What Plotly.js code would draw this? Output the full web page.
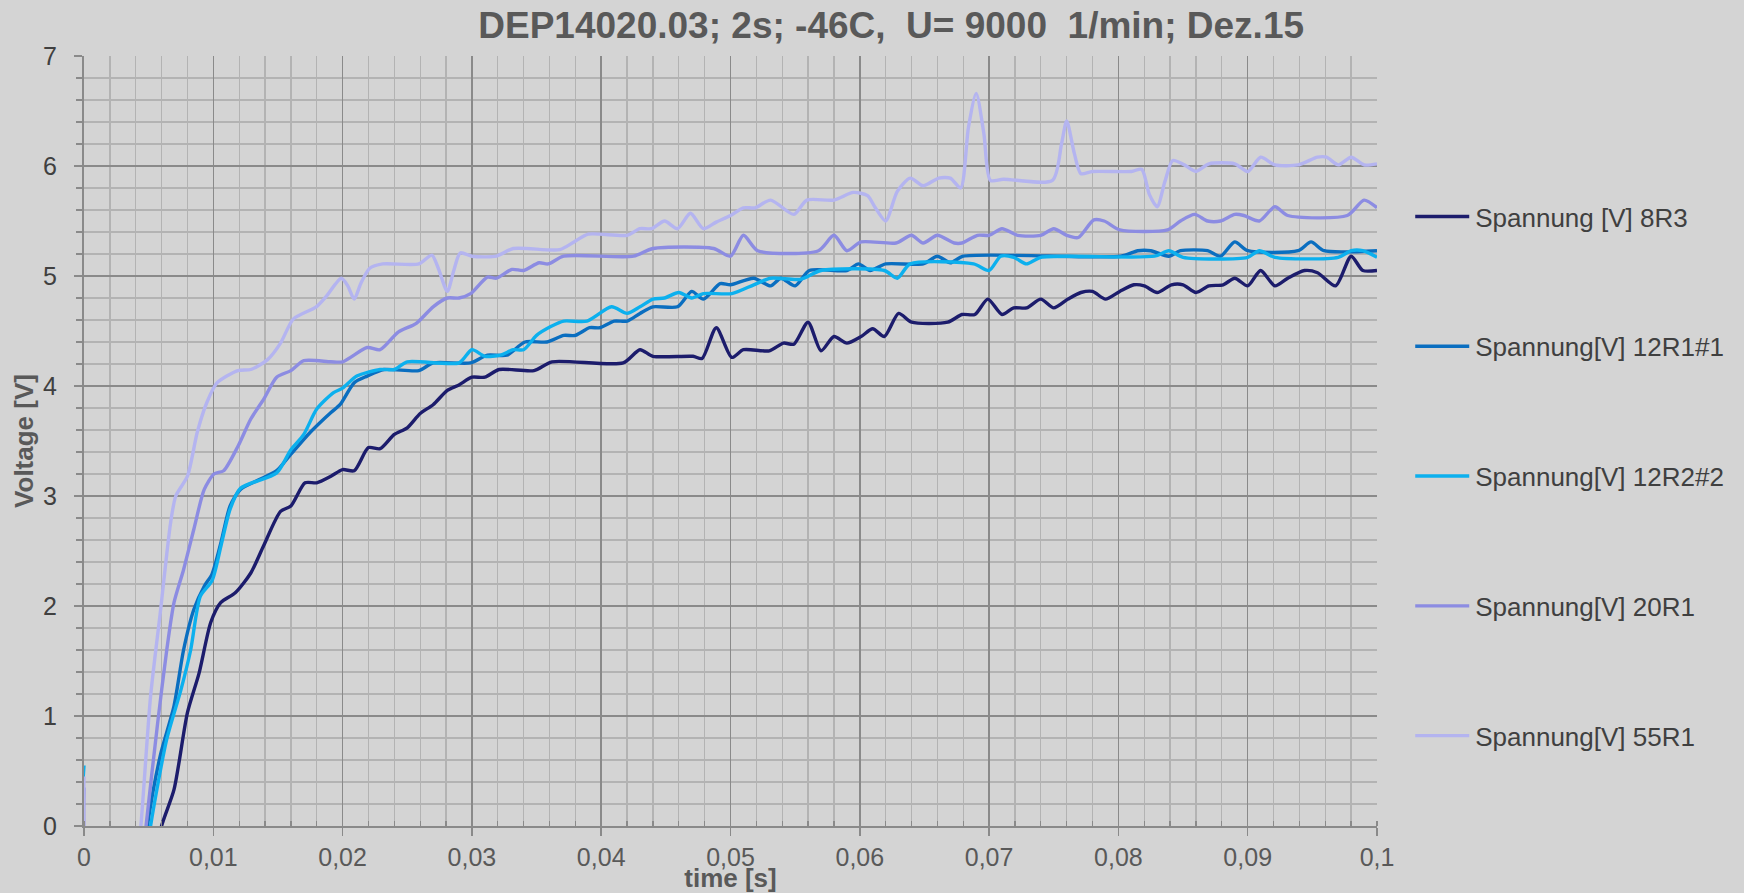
<!DOCTYPE html>
<html>
<head>
<meta charset="utf-8">
<script src="https://cdn.plot.ly/plotly-3.0.1.min.js"></script>
<style>
  html, body { margin: 0; padding: 0; background: #d4d4d4; }
  #chart { width: 1744px; height: 893px; }
</style>
</head>
<body>
<div id="chart"></div>
<script>
// Run-up voltage of five generator variants, time in seconds, voltage in volts.
const seriesNames = [
  'Spannung [V] 8R3',
  'Spannung[V] 12R1#1',
  'Spannung[V] 12R2#2',
  'Spannung[V] 20R1',
  'Spannung[V] 55R1'
];
const seriesColors = ['#1c1c6c', '#0a6ec0', '#0cb0ee', '#8c8ce2', '#b4b4f0'];

const t8R3 = [0, 0.0052, 0.0060, 0.00696, 0.0080, 0.0089, 0.0098, 0.01057, 0.0117, 0.0129, 0.0139, 0.0152, 0.0160, 0.0171, 0.0180, 0.0191, 0.0200, 0.0209, 0.0220, 0.0229, 0.0240, 0.0250, 0.0260, 0.0270, 0.0281, 0.0290, 0.0300, 0.0310, 0.0321, 0.0348, 0.0362, 0.0417, 0.0430, 0.0440, 0.0471, 0.0478, 0.0489, 0.0501, 0.0510, 0.0530, 0.0541, 0.0549, 0.0560, 0.0570, 0.0580, 0.0590, 0.0601, 0.0610, 0.0619, 0.0630, 0.0640, 0.0668, 0.0679, 0.0689, 0.0699, 0.0710, 0.0719, 0.0729, 0.0740, 0.0750, 0.0761, 0.0771, 0.0780, 0.0790, 0.0801, 0.0812, 0.0820, 0.0830, 0.0841, 0.0850, 0.0860, 0.0870, 0.0881, 0.0890, 0.0900, 0.0910, 0.0921, 0.0931, 0.0944, 0.0954, 0.0968, 0.0980, 0.0989, 0.1000];
const v8R3 = [-0.5, -0.5, 0, 0.33, 1.03, 1.39, 1.85, 2.03, 2.12, 2.30, 2.55, 2.86, 2.91, 3.12, 3.12, 3.18, 3.24, 3.23, 3.44, 3.43, 3.56, 3.62, 3.75, 3.83, 3.96, 4.01, 4.08, 4.08, 4.15, 4.14, 4.22, 4.21, 4.33, 4.27, 4.27, 4.25, 4.53, 4.26, 4.33, 4.32, 4.39, 4.38, 4.58, 4.32, 4.45, 4.39, 4.45, 4.52, 4.45, 4.66, 4.58, 4.58, 4.65, 4.65, 4.79, 4.65, 4.71, 4.71, 4.79, 4.71, 4.79, 4.85, 4.86, 4.79, 4.86, 4.92, 4.91, 4.85, 4.92, 4.92, 4.85, 4.91, 4.92, 4.98, 4.91, 5.05, 4.91, 4.98, 5.05, 5.03, 4.91, 5.18, 5.05, 5.05];

const t12R1 = [0, 0.0044, 0.0049, 0.0059, 0.00696, 0.0077, 0.0085, 0.0093, 0.0099, 0.0106, 0.0113, 0.0121, 0.0134, 0.0149, 0.0160, 0.0175, 0.0191, 0.0198, 0.0209, 0.0219, 0.0232, 0.0259, 0.0270, 0.0299, 0.0312, 0.0327, 0.0341, 0.0358, 0.0371, 0.0380, 0.0391, 0.0399, 0.0410, 0.0420, 0.0430, 0.0440, 0.0459, 0.0470, 0.0479, 0.0492, 0.0500, 0.0518, 0.0531, 0.0539, 0.0550, 0.0561, 0.0590, 0.0599, 0.0608, 0.0620, 0.0649, 0.0660, 0.0670, 0.0680, 0.0802, 0.0815, 0.0825, 0.0839, 0.0848, 0.0869, 0.0879, 0.0890, 0.0900, 0.0939, 0.0949, 0.0959, 0.1000];
const v12R1 = [-0.5, -0.5, 0, 0.64, 1.09, 1.60, 1.97, 2.18, 2.29, 2.58, 2.91, 3.06, 3.14, 3.23, 3.38, 3.58, 3.76, 3.83, 4.03, 4.09, 4.15, 4.14, 4.21, 4.21, 4.28, 4.28, 4.40, 4.40, 4.46, 4.46, 4.53, 4.53, 4.59, 4.59, 4.66, 4.72, 4.72, 4.86, 4.79, 4.93, 4.92, 4.98, 4.91, 4.98, 4.91, 5.05, 5.05, 5.11, 5.05, 5.11, 5.11, 5.18, 5.12, 5.18, 5.18, 5.23, 5.23, 5.18, 5.23, 5.23, 5.18, 5.31, 5.23, 5.23, 5.31, 5.23, 5.23];

const t12R2 = [0, 0.0003, 0.0046, 0.00515, 0.0064, 0.0075, 0.00825, 0.0090, 0.0099, 0.0106, 0.0113, 0.0121, 0.0149, 0.0160, 0.0170, 0.0180, 0.0193, 0.0200, 0.0211, 0.0229, 0.0240, 0.0250, 0.0290, 0.0300, 0.0310, 0.0322, 0.0332, 0.0340, 0.0350, 0.0361, 0.0371, 0.0389, 0.0408, 0.0420, 0.0430, 0.0440, 0.0449, 0.0460, 0.0470, 0.0479, 0.0501, 0.0518, 0.0531, 0.0554, 0.0570, 0.0619, 0.0629, 0.0639, 0.0688, 0.0700, 0.0709, 0.0719, 0.0729, 0.0740, 0.0828, 0.0839, 0.0850, 0.0900, 0.0909, 0.0921, 0.0970, 0.0980, 0.0989, 0.1000];
const v12R2 = [0.55, -0.5, -0.5, 0, 0.79, 1.24, 1.60, 2.09, 2.23, 2.55, 2.88, 3.07, 3.21, 3.42, 3.56, 3.79, 3.94, 3.98, 4.09, 4.15, 4.15, 4.22, 4.21, 4.33, 4.27, 4.28, 4.33, 4.33, 4.46, 4.54, 4.59, 4.59, 4.72, 4.66, 4.72, 4.79, 4.80, 4.85, 4.80, 4.84, 4.84, 4.92, 4.98, 4.97, 5.05, 5.05, 4.98, 5.11, 5.11, 5.05, 5.18, 5.17, 5.11, 5.17, 5.18, 5.23, 5.17, 5.17, 5.23, 5.17, 5.17, 5.23, 5.23, 5.17];

const t20R1 = [0, 0.0006, 0.0043, 0.0048, 0.0057, 0.0064, 0.00696, 0.0077, 0.0085, 0.0093, 0.01005, 0.0108, 0.0119, 0.0129, 0.0139, 0.0149, 0.0160, 0.0170, 0.0191, 0.0200, 0.0219, 0.0229, 0.0243, 0.0257, 0.0270, 0.0281, 0.0290, 0.0299, 0.0312, 0.0319, 0.0331, 0.0340, 0.0352, 0.0359, 0.0371, 0.0425, 0.0440, 0.0487, 0.0500, 0.0510, 0.0521, 0.0568, 0.0580, 0.0590, 0.0601, 0.0628, 0.0640, 0.0649, 0.0660, 0.0673, 0.0679, 0.0691, 0.0700, 0.0710, 0.0722, 0.0740, 0.0750, 0.0760, 0.0769, 0.0781, 0.0789, 0.0801, 0.0838, 0.0848, 0.0859, 0.0869, 0.0879, 0.0890, 0.0897, 0.0909, 0.0921, 0.0931, 0.0977, 0.0990, 0.1000];
const v20R1 = [0.35, -0.5, -0.6, 0, 0.94, 1.60, 2.03, 2.33, 2.70, 3.06, 3.20, 3.23, 3.45, 3.70, 3.88, 4.08, 4.14, 4.23, 4.22, 4.22, 4.35, 4.33, 4.49, 4.57, 4.72, 4.80, 4.80, 4.84, 4.99, 4.98, 5.06, 5.05, 5.12, 5.11, 5.18, 5.18, 5.25, 5.25, 5.18, 5.37, 5.23, 5.23, 5.37, 5.23, 5.31, 5.30, 5.37, 5.30, 5.37, 5.30, 5.30, 5.37, 5.37, 5.43, 5.37, 5.37, 5.43, 5.37, 5.35, 5.51, 5.50, 5.42, 5.42, 5.50, 5.56, 5.50, 5.50, 5.56, 5.55, 5.50, 5.63, 5.55, 5.55, 5.69, 5.62];

const t55R1 = [0, 0.0006, 0.0039, 0.0044, 0.00515, 0.0059, 0.0067, 0.0071, 0.0080, 0.00876, 0.0095, 0.0103, 0.0119, 0.0129, 0.0142, 0.0152, 0.0162, 0.01796, 0.0187, 0.0199, 0.0204, 0.0209, 0.0214, 0.0221, 0.0231, 0.0259, 0.0269, 0.0274, 0.0281, 0.0286, 0.0291, 0.0300, 0.0319, 0.0332, 0.0368, 0.0379, 0.0390, 0.0420, 0.0430, 0.0439, 0.0449, 0.0459, 0.0469, 0.0479, 0.0489, 0.0500, 0.0510, 0.0519, 0.0531, 0.0549, 0.0559, 0.0580, 0.0595, 0.0606, 0.0612, 0.0620, 0.0629, 0.0639, 0.0649, 0.0661, 0.0670, 0.0678, 0.0684, 0.0690, 0.0696, 0.0701, 0.0711, 0.0749, 0.0756, 0.0760, 0.0766, 0.0771, 0.0780, 0.0810, 0.0818, 0.0824, 0.0830, 0.0836, 0.0842, 0.0851, 0.0860, 0.0870, 0.0890, 0.0900, 0.0910, 0.0921, 0.0939, 0.0954, 0.0961, 0.0970, 0.0980, 0.0990, 0.1000];
const v55R1 = [0.45, -0.5, -0.6, 0, 1.18, 1.94, 2.76, 3.00, 3.18, 3.58, 3.85, 4.03, 4.14, 4.15, 4.24, 4.39, 4.61, 4.72, 4.81, 4.98, 4.91, 4.79, 4.93, 5.07, 5.11, 5.11, 5.19, 5.07, 4.86, 5.05, 5.21, 5.18, 5.18, 5.25, 5.24, 5.31, 5.38, 5.37, 5.43, 5.43, 5.50, 5.43, 5.57, 5.43, 5.49, 5.55, 5.62, 5.62, 5.69, 5.56, 5.69, 5.69, 5.76, 5.73, 5.62, 5.50, 5.77, 5.89, 5.82, 5.89, 5.89, 5.80, 6.35, 6.66, 6.29, 5.87, 5.88, 5.87, 6.20, 6.41, 6.11, 5.93, 5.95, 5.95, 5.97, 5.74, 5.63, 5.86, 6.05, 6.01, 5.95, 6.02, 6.02, 5.95, 6.08, 6.01, 6.01, 6.08, 6.08, 6.01, 6.08, 6.01, 6.02];

const xTicksMajor = 0.01, xTicksMinor = 0.002;
const yTicksMajor = 1, yTicksMinor = 0.2;

const times = [t8R3, t12R1, t12R2, t20R1, t55R1];
const volts = [v8R3, v12R1, v12R2, v20R1, v55R1];

const FONT = '"Liberation Sans", Arial, sans-serif';
const BG = '#d4d4d4';
const MAJOR = '#8a8a8a';
const MINOR = '#b3b3b3';

const traces = seriesNames.map((name, i) => ({
  type: 'scatter',
  mode: 'lines',
  name: name,
  legendgroup: 'g' + i,
  x: times[i],
  y: volts[i],
  line: { color: seriesColors[i], width: 3.4, shape: 'spline', smoothing: 0.7 },
  hoverinfo: 'x+y+name'
}));

const layout = {
  width: 1744,
  height: 893,
  paper_bgcolor: BG,
  plot_bgcolor: BG,
  separators: ',.',
  margin: { l: 84, r: 367, t: 56, b: 67, pad: 0 },
  font: { family: FONT, color: '#404040' },
  title: {
    text: 'DEP14020.03; 2s; -46C,\u00a0\u00a0U= 9000\u00a0\u00a01/min; Dez.15',
    font: { family: FONT, size: 37, color: '#595959', weight: 'bold' },
    xref: 'container', x: 0.511, xanchor: 'center',
    yref: 'container', y: 0.972, yanchor: 'middle'
  },
  xaxis: {
    range: [0, 0.1],
    tick0: 0, dtick: xTicksMajor,
    showgrid: true, gridcolor: MAJOR, gridwidth: 1.5,
    zeroline: false,
    showline: true, linecolor: MAJOR, linewidth: 2,
    ticks: 'outside', ticklen: 8, tickcolor: MAJOR, tickwidth: 1.5,
    tickfont: { family: FONT, size: 25, color: '#595959' },
    minor: { dtick: xTicksMinor, showgrid: true, gridcolor: MINOR, gridwidth: 1.3,
             ticks: 'inside', ticklen: 5, tickcolor: MAJOR, tickwidth: 1.3 },
    title: { text: 'time [s]', standoff: 1,
             font: { family: FONT, size: 26, color: '#595959', weight: 'bold' } },
    automargin: false,
    fixedrange: true
  },
  yaxis: {
    range: [0, 7],
    tick0: 0, dtick: yTicksMajor,
    showgrid: true, gridcolor: MAJOR, gridwidth: 1.5,
    zeroline: false,
    showline: true, linecolor: MAJOR, linewidth: 2,
    ticks: 'outside', ticklen: 8, tickcolor: MAJOR, tickwidth: 1.5,
    tickfont: { family: FONT, size: 25, color: '#404040' },
    ticklabelstandoff: 12,
    minor: { dtick: yTicksMinor, showgrid: true, gridcolor: MINOR, gridwidth: 1.3,
             ticks: 'outside', ticklen: 6, tickcolor: MAJOR, tickwidth: 1.3 },
    title: { text: 'Voltage [V]', standoff: 2,
             font: { family: FONT, size: 26, color: '#595959', weight: 'bold' } },
    automargin: false,
    fixedrange: true
  },
  showlegend: true,
  legend: {
    x: 1.0257, xanchor: 'left',
    y: 0.822, yanchor: 'top',
    bgcolor: 'rgba(0,0,0,0)',
    borderwidth: 0,
    itemwidth: 55,
    font: { family: FONT, size: 26, color: '#404040' },
    traceorder: 'grouped',
    tracegroupgap: 93
  }
};

Plotly.newPlot('chart', traces, layout, { displayModeBar: false, staticPlot: true }).then(gd => {
  // longer legend sample lines to fill the wider symbol slot
  gd.querySelectorAll('.legendlines path').forEach(p => p.setAttribute('d', 'M5,0h54'));
});
</script>
</body>
</html>
